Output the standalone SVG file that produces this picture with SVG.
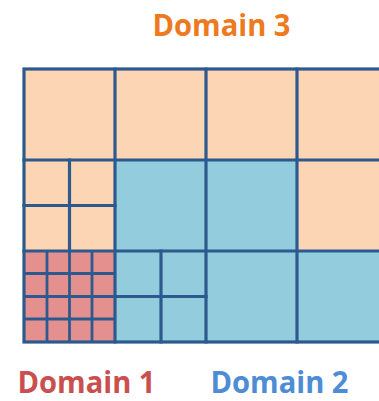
<svg xmlns="http://www.w3.org/2000/svg" width="379" height="401" viewBox="0 0 379 401">
  <style>
    .d3 { fill: #FCD5B4; }
    .d2 { fill: #93CDDD; }
    .d1 { fill: #E4908F; }
    .grid { fill: none; stroke: #2D5A8E; stroke-width: 3.2; stroke-linecap: square; }
    .fine { fill: none; stroke: #2D5A8E; stroke-width: 2.8; }
    .label { font-family: "Open Sans", "Liberation Sans", sans-serif; font-weight: 700; font-size: 29.5px; text-anchor: middle; }
  </style>
  <rect width="379" height="401" fill="#FFFFFF"/>

  <!-- Domain 3: coarse cells -->
  <g id="domain3">
    <rect class="d3" x="24" y="69" width="364" height="91"/>
    <rect class="d3" x="24" y="160" width="91" height="91"/>
    <rect class="d3" x="297" y="160" width="91" height="91"/>
  </g>

  <!-- Domain 2: medium cells -->
  <g id="domain2">
    <rect class="d2" x="115" y="160" width="182" height="91"/>
    <rect class="d2" x="115" y="251" width="273" height="91"/>
  </g>

  <!-- Domain 1: fine cells -->
  <g id="domain1">
    <rect class="d1" x="24" y="251" width="91" height="91"/>
  </g>

  <!-- cell boundaries -->
  <g id="lines">
    <path class="fine" d="M47 251V342M69.5 251V342M92 251V342M24 273.5H115M24 296.5H115M24 319H115"/>
    <path class="grid" d="M69.5 160V251M24 205.5H115"/>
    <path class="grid" d="M161 251V342M115 296.5H206"/>
    <path class="grid" d="M115 69V342M206 69V342M297 69V342M24 160H388M24 251H388"/>
    <rect class="grid" x="24" y="69" width="364" height="273"/>
  </g>

  <g id="labels">
    <text class="label" x="221.5" y="36" fill="#EE7A1F" textLength="138" lengthAdjust="spacingAndGlyphs">Domain 3</text>
    <text class="label" x="86.5" y="392.5" fill="#C9504F" textLength="138" lengthAdjust="spacingAndGlyphs">Domain 1</text>
    <text class="label" x="279.5" y="392.5" fill="#4E8CD6" textLength="138" lengthAdjust="spacingAndGlyphs">Domain 2</text>
  </g>
</svg>
